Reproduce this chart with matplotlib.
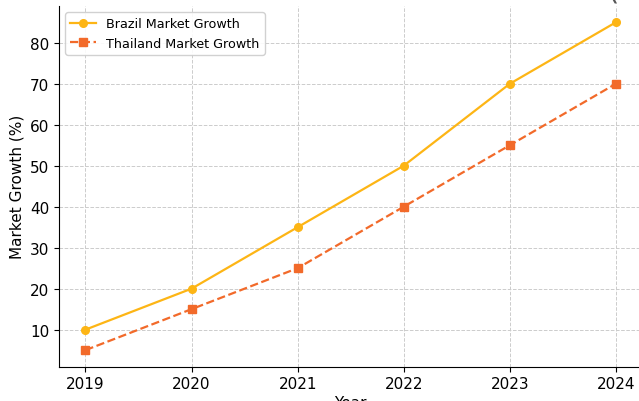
import matplotlib.pyplot as plt

years = [2019, 2020, 2021, 2022, 2023, 2024]
brazil = [10, 20, 35, 50, 70, 85]
thailand = [5, 15, 25, 40, 55, 70]
title = "Projected Market Growth in Brazil and Thailand (2019-2024)"

fig = plt.figure(figsize=(6.39, 4.02), dpi=100)
# axes run past the right/top edge, as in the cropped reference
ax = fig.add_axes([0.0923, 0.0858, 0.913, 0.897])

ax.plot(years, brazil, color='#FDB515', marker='o', markersize=5.5, lw=1.6, label='Brazil Market Growth')
ax.plot(years, thailand, color='#F26A2A', marker='s', markersize=5.5, lw=1.6, linestyle='--', label='Thailand Market Growth')

ax.set_xticks(years)
ax.tick_params(labelsize=11)
ax.set_xlabel("Year", fontsize=11, labelpad=3)
ax.set_ylabel("Market Growth (%)", fontsize=11)
ax.grid(True, linestyle='--', color='#cccccc', lw=0.7)
ax.spines['top'].set_visible(False)
ax.legend(loc='upper left', fontsize=9.2, framealpha=0.9)
# title sits almost entirely above the canvas, only its bottom edge shows
ax.set_title(title, fontsize=21, pad=4.85, color='#555555')

fig.savefig('out.png', dpi=100)
